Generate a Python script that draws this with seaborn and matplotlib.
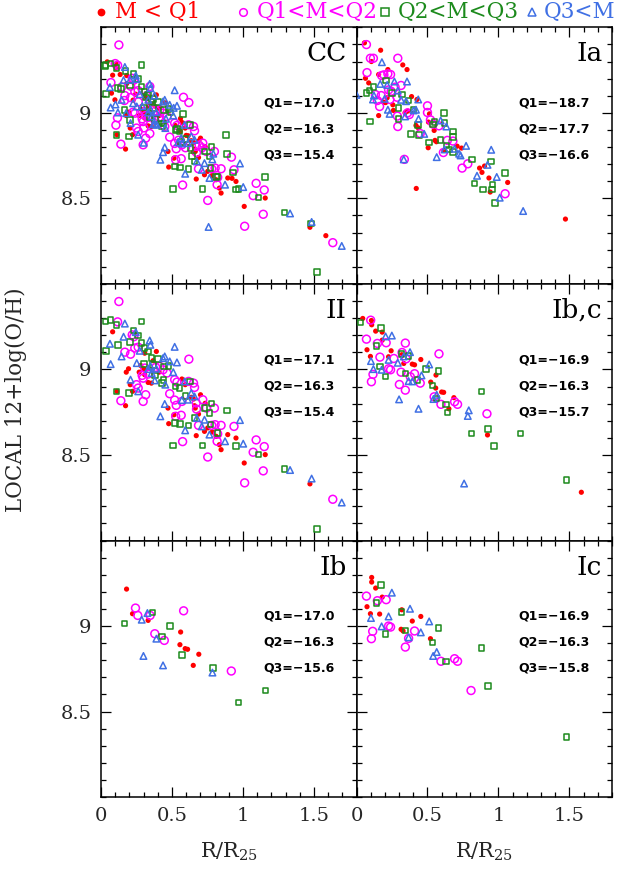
import matplotlib
matplotlib.use("Agg")
import matplotlib.pyplot as plt
from matplotlib.lines import Line2D
from matplotlib.ticker import MultipleLocator, FixedLocator, FixedFormatter
import seaborn as sns
import pandas as pd

# ---------------- data ----------------
GROUPS = ["M < Q1", "Q1<M<Q2", "Q2<M<Q3", "Q3<M"]

IA_M1 = [(0.056, 9.409), (0.105, 9.300), (0.170, 9.366), (0.063, 9.202), (0.086, 9.175), (0.156, 9.224),
         (0.221, 9.253), (0.326, 9.280), (0.356, 9.253), (0.193, 9.062), (0.205, 9.060), (0.256, 9.047),
         (0.260, 9.014), (0.156, 8.984), (0.216, 9.088), (0.388, 9.095), (0.426, 9.078), (0.360, 9.010),
         (0.342, 9.000), (0.419, 8.926), (0.435, 8.912), (0.507, 8.946), (0.514, 8.994), (0.547, 8.897),
         (0.553, 8.839), (0.563, 8.831), (0.505, 8.796), (0.616, 8.780), (0.709, 8.805), (0.740, 8.794),
         (0.867, 8.677), (0.884, 8.652), (0.902, 8.689), (0.933, 8.619), (0.942, 8.537), (1.065, 8.593),
         (0.421, 8.558), (1.472, 8.379)]
IA_M2 = [(0.070, 9.399), (0.098, 9.319), (0.119, 9.319), (0.074, 9.235), (0.177, 9.218), (0.193, 9.222),
         (0.221, 9.228), (0.240, 9.224), (0.291, 9.319), (0.272, 9.150), (0.314, 9.160), (0.133, 9.107),
         (0.174, 9.101), (0.147, 9.072), (0.163, 9.037), (0.226, 9.134), (0.244, 9.126), (0.286, 9.091),
         (0.235, 9.078), (0.288, 8.981), (0.291, 8.920), (0.360, 9.000), (0.372, 8.990), (0.500, 9.041),
         (0.500, 9.002), (0.521, 8.959), (0.540, 8.934), (0.581, 8.924), (0.612, 8.768), (0.640, 8.839),
         (0.679, 8.835), (0.744, 8.677), (0.784, 8.702), (1.047, 8.527), (0.337, 8.728), (0.449, 8.879)]
IA_M3 = [(0.070, 9.117), (0.093, 9.130), (0.119, 9.152), (0.095, 8.949), (0.209, 9.189), (0.249, 9.117),
         (0.319, 9.107), (0.295, 9.029), (0.295, 8.963), (0.365, 9.072), (0.402, 9.019), (0.435, 8.930),
         (0.384, 8.875), (0.442, 8.870), (0.509, 8.827), (0.540, 8.932), (0.549, 8.946), (0.616, 9.000),
         (0.621, 8.942), (0.593, 8.842), (0.635, 8.809), (0.651, 8.786), (0.681, 8.891), (0.681, 8.770),
         (0.679, 8.858), (0.814, 8.726), (0.947, 8.716), (0.830, 8.586), (0.891, 8.551), (0.956, 8.551),
         (0.958, 8.582), (1.047, 8.648), (0.974, 8.473)]
IA_M4 = [(0.000, 9.105), (0.179, 9.296), (0.167, 9.169), (0.216, 9.163), (0.267, 9.183), (0.356, 9.183),
         (0.291, 9.130), (0.123, 9.101), (0.116, 9.078), (0.198, 9.082), (0.314, 9.076), (0.349, 9.068),
         (0.435, 9.078), (0.221, 9.018), (0.233, 8.994), (0.342, 8.979), (0.402, 9.014), (0.419, 9.018),
         (0.437, 8.965), (0.477, 8.877), (0.593, 8.955), (0.633, 8.920), (0.565, 8.741), (0.621, 8.786),
         (0.691, 8.790), (0.723, 8.761), (0.772, 8.807), (0.733, 8.751), (0.949, 8.784), (0.923, 8.696),
         (0.849, 8.632), (0.988, 8.625), (1.009, 8.504), (1.174, 8.426), (0.333, 8.728)]

II_M1 = [(0.082, 9.220), (0.178, 8.984), (0.194, 9.004), (0.206, 8.911), (0.269, 8.984), (0.280, 9.023),
         (0.301, 9.004), (0.308, 8.969), (0.332, 8.924), (0.355, 8.920), (0.390, 9.105), (0.367, 9.051),
         (0.409, 8.984), (0.173, 8.788), (0.112, 8.872), (0.222, 8.872), (0.308, 9.095), (0.472, 8.774),
         (0.514, 8.735), (0.477, 8.683), (0.570, 8.944), (0.593, 8.911), (0.636, 8.837), (0.652, 8.827),
         (0.659, 8.788), (0.664, 8.774), (0.701, 8.852), (0.734, 8.802), (0.687, 8.739), (0.729, 8.638),
         (0.671, 8.613), (0.752, 8.658), (0.783, 8.634), (0.811, 8.609), (0.834, 8.560), (0.846, 8.531),
         (0.893, 8.619), (0.951, 8.599), (1.009, 8.453), (1.157, 8.502), (1.472, 8.331)]
II_M2 = [(0.126, 9.397), (0.117, 9.278), (0.168, 9.101), (0.208, 9.089), (0.220, 9.202), (0.231, 9.191),
         (0.238, 9.125), (0.262, 9.130), (0.308, 9.008), (0.290, 8.965), (0.297, 8.949), (0.332, 8.973),
         (0.250, 8.911), (0.262, 8.891), (0.315, 8.852), (0.297, 8.813), (0.140, 8.817), (0.386, 9.012),
         (0.414, 9.018), (0.437, 8.998), (0.465, 8.979), (0.519, 8.940), (0.535, 8.926), (0.484, 8.858),
         (0.519, 8.821), (0.530, 8.790), (0.570, 8.813), (0.526, 8.726), (0.565, 8.732), (0.619, 9.060),
         (0.617, 8.930), (0.652, 8.920), (0.659, 8.895), (0.671, 8.804), (0.673, 8.768), (0.687, 8.673),
         (0.717, 8.823), (0.743, 8.774), (0.799, 8.774), (0.780, 8.673), (0.804, 8.677), (0.846, 8.673),
         (0.822, 8.623), (0.818, 8.580), (0.937, 8.667), (0.752, 8.488), (0.575, 8.578), (1.093, 8.588),
         (1.150, 8.549), (1.072, 8.516), (1.143, 8.407), (1.012, 8.337), (1.633, 8.241)]
II_M3 = [(0.035, 9.109), (0.033, 9.280), (0.068, 9.288), (0.121, 9.144), (0.110, 9.261), (0.110, 8.872),
         (0.199, 8.862), (0.206, 9.160), (0.229, 9.228), (0.262, 9.198), (0.285, 9.280), (0.285, 9.154),
         (0.308, 9.125), (0.304, 9.031), (0.332, 9.105), (0.355, 9.066), (0.367, 9.027), (0.402, 9.062),
         (0.379, 8.965), (0.442, 9.018), (0.477, 9.021), (0.439, 8.938), (0.430, 8.920), (0.526, 8.899),
         (0.554, 8.891), (0.596, 8.846), (0.626, 8.930), (0.523, 8.687), (0.556, 8.681), (0.617, 8.673),
         (0.659, 8.716), (0.729, 8.774), (0.764, 8.745), (0.780, 8.800), (0.771, 8.677), (0.822, 8.628),
         (0.888, 8.759), (0.951, 8.553), (0.715, 8.556), (0.509, 8.556), (1.110, 8.504), (1.294, 8.418),
         (1.521, 8.068)]
II_M4 = [(0.063, 9.150), (0.068, 9.031), (0.145, 9.076), (0.159, 9.191), (0.168, 9.268), (0.208, 8.940),
         (0.245, 9.218), (0.252, 9.037), (0.273, 9.109), (0.262, 8.872), (0.343, 9.169), (0.348, 9.144),
         (0.348, 9.021), (0.332, 9.002), (0.357, 8.979), (0.379, 8.936), (0.390, 9.004), (0.437, 9.066),
         (0.449, 9.076), (0.484, 9.047), (0.509, 8.984), (0.519, 9.132), (0.535, 9.041), (0.589, 8.930),
         (0.570, 8.821), (0.612, 8.823), (0.636, 8.862), (0.659, 8.842), (0.675, 8.716), (0.710, 8.667),
         (0.729, 8.706), (0.764, 8.619), (0.874, 8.580), (0.979, 8.704), (1.002, 8.566), (1.332, 8.412),
         (1.484, 8.362), (1.696, 8.222), (0.418, 8.726), (0.593, 8.644), (0.449, 8.798), (0.453, 8.911)]

IBC_M1 = [(0.044, 9.298), (0.105, 9.286), (0.107, 9.261), (0.135, 9.224), (0.181, 9.218), (0.181, 9.171),
          (0.074, 9.115), (0.098, 9.076), (0.244, 9.109), (0.226, 9.074), (0.319, 9.086), (0.333, 9.035),
          (0.393, 9.031), (0.409, 9.027), (0.453, 9.058), (0.560, 8.967), (0.523, 8.926), (0.558, 8.891),
          (0.600, 8.868), (0.614, 8.866), (0.686, 8.835), (0.651, 8.770), (0.923, 8.617), (1.584, 8.282)]
IBC_M2 = [(0.100, 9.288), (0.070, 9.177), (0.147, 9.152), (0.209, 9.156), (0.344, 9.154), (0.165, 9.072),
          (0.263, 9.064), (0.321, 9.099), (0.349, 9.062), (0.226, 9.004), (0.240, 8.998), (0.314, 8.984),
          (0.409, 8.975), (0.379, 8.957), (0.449, 8.920), (0.302, 8.912), (0.105, 8.928), (0.116, 8.971),
          (0.344, 8.879), (0.581, 9.091), (0.547, 8.840), (0.595, 8.796), (0.691, 8.811), (0.712, 8.796),
          (0.919, 8.741)]
IBC_M3 = [(0.028, 9.274), (0.172, 9.243), (0.140, 9.138), (0.316, 9.089), (0.365, 9.080), (0.167, 9.018),
          (0.205, 8.959), (0.344, 8.977), (0.430, 8.938), (0.491, 9.002), (0.579, 8.992), (0.535, 8.905),
          (0.565, 8.829), (0.630, 8.794), (0.642, 8.747), (0.881, 8.872), (0.928, 8.652), (0.809, 8.625),
          (0.970, 8.554), (1.156, 8.625), (1.479, 8.354)]
IBC_M4 = [(0.205, 9.193), (0.249, 9.198), (0.102, 9.049), (0.226, 9.056), (0.119, 9.002), (0.177, 8.998),
          (0.291, 9.039), (0.377, 9.101), (0.333, 9.076), (0.367, 8.932), (0.393, 8.930), (0.458, 8.965),
          (0.512, 9.029), (0.565, 8.852), (0.542, 8.827), (0.300, 8.825), (0.437, 8.770), (0.791, 8.761),
          (0.784, 8.728), (0.758, 8.333)]

IB_M1 = [(0.180, 9.216), (0.222, 9.072), (0.332, 9.033), (0.561, 8.965), (0.556, 8.891), (0.593, 8.868),
         (0.610, 8.864), (0.689, 8.835), (0.650, 8.770)]
IB_M2 = [(0.243, 9.105), (0.259, 9.062), (0.346, 9.062), (0.379, 8.955), (0.446, 8.916), (0.582, 9.089),
         (0.918, 8.737)]
IB_M3 = [(0.164, 9.016), (0.364, 9.080), (0.486, 9.000), (0.428, 8.938), (0.570, 8.831), (0.790, 8.755),
         (1.159, 8.623), (0.970, 8.553)]
IB_M4 = [(0.287, 9.037), (0.327, 9.076), (0.390, 8.926), (0.299, 8.825), (0.437, 8.770), (0.785, 8.728)]

IC_M1 = [(0.107, 9.284), (0.107, 9.257), (0.135, 9.222), (0.181, 9.169), (0.074, 9.113), (0.098, 9.072),
         (0.163, 9.070), (0.319, 9.095), (0.314, 8.981), (0.328, 8.971), (0.393, 9.029), (0.453, 9.056),
         (0.521, 8.926)]
IC_M2 = [(0.070, 9.175), (0.147, 9.148), (0.209, 9.154), (0.114, 8.969), (0.105, 8.926), (0.226, 9.000),
         (0.240, 8.994), (0.409, 8.971), (0.367, 8.928), (0.344, 8.877), (0.595, 8.794), (0.691, 8.809),
         (0.712, 8.794), (0.807, 8.623)]
IC_M3 = [(0.172, 9.241), (0.140, 9.134), (0.316, 9.082), (0.205, 8.955), (0.344, 8.975), (0.579, 8.990),
         (0.535, 8.903), (0.630, 8.792), (0.881, 8.872), (0.928, 8.650), (1.479, 8.352)]
IC_M4 = [(0.249, 9.195), (0.102, 9.047), (0.226, 9.056), (0.177, 8.998), (0.377, 9.101), (0.367, 8.934),
         (0.453, 8.963), (0.512, 9.027), (0.565, 8.848), (0.540, 8.825)]

# CC sample = II + Ib,c
CC_M1 = II_M1 + IBC_M1
CC_M2 = II_M2 + IBC_M2
CC_M3 = II_M3 + IBC_M3
CC_M4 = II_M4 + IBC_M4

PANELS = ["CC", "Ia", "II", "Ib,c", "Ib", "Ic"]
PANEL_DATA = {
    "CC": [CC_M1, CC_M2, CC_M3, CC_M4],
    "Ia": [IA_M1, IA_M2, IA_M3, IA_M4],
    "II": [II_M1, II_M2, II_M3, II_M4],
    "Ib,c": [IBC_M1, IBC_M2, IBC_M3, IBC_M4],
    "Ib": [IB_M1, IB_M2, IB_M3, IB_M4],
    "Ic": [IC_M1, IC_M2, IC_M3, IC_M4],
}
Q1 = {"CC": "−17.0", "Ia": "−18.7", "II": "−17.1", "Ib,c": "−16.9", "Ib": "−17.0", "Ic": "−16.9"}
Q2 = {"CC": "−16.3", "Ia": "−17.7", "II": "−16.3", "Ib,c": "−16.3", "Ib": "−16.3", "Ic": "−16.3"}
Q3 = {"CC": "−15.4", "Ia": "−16.6", "II": "−15.4", "Ib,c": "−15.7", "Ib": "−15.6", "Ic": "−15.8"}

X_TICKS = [0, 0.5, 1, 1.5]
X_TICK_LABELS = ["0", "0.5", "1", "1.5"]
Y_TICKS = [8.5, 9.0]
Y_TICK_LABELS = ["8.5", "9"]

# ---------------- styles ----------------
COLORS = ["#ff0000", "#ff00ff", "#1c8a1c", "#4070e4"]
MARKERS = ["o", "o", "s", "^"]
SIZES = [14, 32, 16, 22]
FILLED = [True, False, False, False]

sns.set_theme(style="ticks")
plt.rcParams["font.family"] = ["DejaVu Serif"]
plt.rcParams["mathtext.fontset"] = "dejavuserif"

W, H = 617, 876
fig = plt.figure(figsize=(W / 100, H / 100), dpi=100)

left0, colw = 101, 255.5
top0, rowh = 27.3, 256.6

for i, panel in enumerate(PANELS):
    r, c = divmod(i, 2)
    x0 = (left0 + c * colw) / W
    y0 = 1 - (top0 + (r + 1) * rowh) / H
    ax = fig.add_axes([x0, y0, colw / W, rowh / H])

    for g in range(4):
        pts = PANEL_DATA[panel][g]
        df = pd.DataFrame(pts, columns=["x", "y"])
        if FILLED[g]:
            sns.scatterplot(data=df, x="x", y="y", ax=ax, marker=MARKERS[g], s=SIZES[g],
                            color=COLORS[g], edgecolor="none", linewidth=0, zorder=3)
        else:
            sns.scatterplot(data=df, x="x", y="y", ax=ax, marker=MARKERS[g], s=SIZES[g],
                            facecolor="none", edgecolor=COLORS[g], linewidth=1.1, zorder=3)

    ax.set_xlim(0, 1.8)
    ax.set_ylim(8.0, 9.5)
    ax.set_xlabel("")
    ax.set_ylabel("")
    ax.xaxis.set_major_locator(FixedLocator(X_TICKS))
    ax.xaxis.set_minor_locator(MultipleLocator(0.1))
    ax.yaxis.set_major_locator(FixedLocator(Y_TICKS))
    ax.yaxis.set_minor_locator(MultipleLocator(0.1))
    ax.tick_params(which="both", direction="in", top=True, right=True, color="black",
                   labelsize=14, pad=7)
    ax.tick_params(which="major", length=7, width=0.9)
    ax.tick_params(which="minor", length=3.8, width=0.9)
    for sp in ax.spines.values():
        sp.set_linewidth(1.1)
        sp.set_color("black")
    if r == 2:
        ax.xaxis.set_major_formatter(FixedFormatter(X_TICK_LABELS))
    else:
        ax.tick_params(labelbottom=False)
    if c == 0:
        ax.yaxis.set_major_formatter(FixedFormatter(Y_TICK_LABELS))
    else:
        ax.tick_params(labelleft=False)

    ax.text(0.962, 0.945, panel, transform=ax.transAxes, ha="right", va="top",
            fontsize=19, color="black")
    for k, (lab, val) in enumerate([("Q1", Q1[panel]), ("Q2", Q2[panel]), ("Q3", Q3[panel])]):
        ax.text(0.635, 0.704 - 0.101 * k, f"{lab}={val}", transform=ax.transAxes,
                ha="left", va="center", fontsize=9, fontweight="bold",
                family=["DejaVu Sans"], color="black")

# axis labels
fig.text(16 / W, 1 - 400 / H, "LOCAL 12+log(O/H)", rotation=90, ha="center", va="center",
         fontsize=15.5)
for c in range(2):
    cx = (left0 + c * colw + colw / 2) / W
    fig.text(cx, 1 - 852 / H, r"R/R$_{\mathregular{25}}$", ha="center", va="center", fontsize=15)

# legend row (marker key + coloured labels)
LEG_MARKER_X = [101, 243, 385, 532]
LEG_TEXT_X = [115, 257, 398, 544]
LEG_Y = 1 - 12 / H
for g in range(4):
    fig.add_artist(Line2D([LEG_MARKER_X[g] / W], [LEG_Y], transform=fig.transFigure,
                          linestyle="none", marker=MARKERS[g],
                          markersize=5.5 if g != 0 else 4.5,
                          markerfacecolor=COLORS[g] if FILLED[g] else "none",
                          markeredgecolor=COLORS[g], markeredgewidth=1.1))
    fig.text(LEG_TEXT_X[g] / W, LEG_Y, GROUPS[g], color=COLORS[g], ha="left", va="center",
             fontsize=15.5)

fig.savefig("out.png", dpi=100)
